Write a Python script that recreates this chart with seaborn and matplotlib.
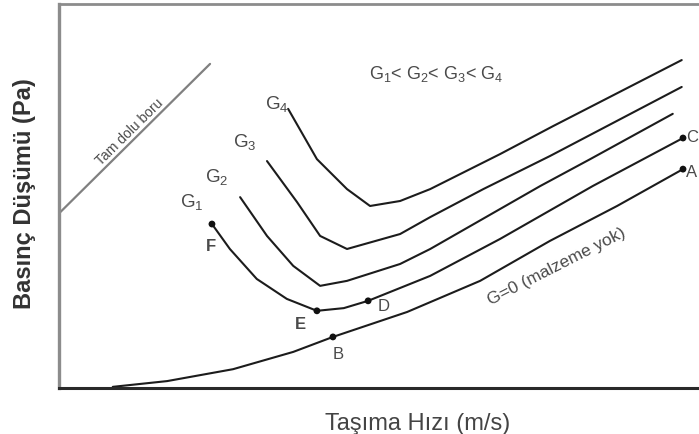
import pandas as pd
import matplotlib.pyplot as plt
import seaborn as sns

# Eğrilerin resimden okunan değerleri (eksen birimleri keyfi: x 0-10, y 0-10)
g0_x = [0.84, 1.69, 2.72, 3.66, 4.28, 5.44, 6.58, 7.67, 8.72, 9.75]
g0_y = [0.03, 0.18, 0.49, 0.94, 1.33, 1.98, 2.79, 3.83, 4.74, 5.70]

g1_x = [2.39, 2.67, 3.09, 3.56, 4.03, 4.45, 4.83, 5.80, 6.89, 8.34, 9.75]
g1_y = [4.27, 3.62, 2.84, 2.32, 2.01, 2.08, 2.27, 2.92, 3.88, 5.26, 6.51]

g2_x = [2.83, 3.25, 3.66, 4.08, 4.50, 5.33, 5.80, 7.52, 8.30, 9.59]
g2_y = [4.97, 3.96, 3.18, 2.66, 2.79, 3.23, 3.62, 5.26, 5.96, 7.14]

g3_x = [3.25, 3.72, 4.08, 4.50, 5.33, 5.80, 6.63, 7.67, 9.73]
g3_y = [5.91, 4.84, 3.96, 3.62, 4.01, 4.45, 5.18, 6.04, 7.84]

g4_x = [3.58, 4.03, 4.50, 4.86, 5.33, 5.80, 6.89, 7.72, 9.73]
g4_y = [7.27, 5.96, 5.18, 4.74, 4.87, 5.18, 6.09, 6.82, 8.54]

# tam dolu boru doğrusu
full_x = [0.02, 2.36]
full_y = [4.58, 8.44]

# işaretli noktalar
pt_names = ['F', 'E', 'D', 'B', 'C', 'A']
pt_x = [2.39, 4.03, 4.83, 4.28, 9.75, 9.75]
pt_y = [4.27, 2.01, 2.27, 1.33, 6.51, 5.70]

# uzun tablo
curves = {'G0': (g0_x, g0_y), 'G1': (g1_x, g1_y), 'G2': (g2_x, g2_y),
          'G3': (g3_x, g3_y), 'G4': (g4_x, g4_y)}
rows = []
for name, (xs, ys) in curves.items():
    for i, (x, y) in enumerate(zip(xs, ys)):
        rows.append({'curve': name, 'order': i, 'x': x, 'y': y})
df = pd.DataFrame(rows)
df_full = pd.DataFrame({'x': full_x, 'y': full_y})
df_pts = pd.DataFrame({'name': pt_names, 'x': pt_x, 'y': pt_y})

sns.set_theme(style='white')
plt.rcParams['font.family'] = ['Liberation Sans', 'DejaVu Sans']
plt.rcParams['mathtext.default'] = 'regular'

fig = plt.figure(figsize=(6.99, 4.35), dpi=100)
ax = fig.add_axes([59 / 699, 46 / 435, 640 / 699, 384 / 435])

sns.lineplot(data=df, x='x', y='y', units='curve', estimator=None, sort=False,
             color='#1c1c1c', lw=1.5, ax=ax)
sns.lineplot(data=df_full, x='x', y='y', estimator=None, sort=False,
             color='#808080', lw=1.6, ax=ax)
sns.scatterplot(data=df_pts, x='x', y='y', color='#111111', s=24,
                edgecolor='none', ax=ax, zorder=5)

ax.set_xlim(0, 10)
ax.set_ylim(0, 10)
ax.set_xticks([])
ax.set_yticks([])

# eksenler
ax.spines['right'].set_visible(False)
ax.spines['left'].set_color('#8c8c8c')
ax.spines['left'].set_linewidth(2.4)
ax.spines['top'].set_color('#8c8c8c')
ax.spines['top'].set_linewidth(2.0)
ax.spines['bottom'].set_color('#2a2a2a')
ax.spines['bottom'].set_linewidth(2.2)

ax.set_xlabel('Taşıma Hızı (m/s)', fontsize=17, color='#444444')
ax.xaxis.set_label_coords((418 - 59) / 640, -(424 - 389) / 384)
ax.set_ylabel('Basınç Düşümü (Pa)', fontsize=17, color='#333333',
              fontweight='bold')
ax.yaxis.set_label_coords(-(59 - 25) / 640, (389 - 194) / 384)
ax.xaxis.label.set_va('center')
ax.yaxis.label.set_va('center')

gray = '#4a4a4a'
ax.text(3.22, 7.29, 'G$_4$', fontsize=13.5, color=gray, ha='left', va='baseline')
ax.text(2.72, 6.30, 'G$_3$', fontsize=13.5, color=gray, ha='left', va='baseline')
ax.text(2.28, 5.39, 'G$_2$', fontsize=13.5, color=gray, ha='left', va='baseline')
ax.text(1.89, 4.74, 'G$_1$', fontsize=13.5, color=gray, ha='left', va='baseline')
ax.text(5.89, 8.07, 'G$_1$< G$_2$< G$_3$< G$_4$', fontsize=13, color=gray,
        ha='center', va='baseline')

txt = dict(color=gray, ha='center', va='center', fontsize=12)
ax.text(2.38, 3.70, 'F', fontweight='bold', **txt)
ax.text(3.78, 1.67, 'E', fontweight='bold', **txt)
ax.text(5.08, 2.14, 'D', **txt)
ax.text(4.36, 0.91, 'B', **txt)
ax.text(9.80, 6.56, 'C', fontsize=12, color=gray, ha='left', va='center')
ax.text(9.80, 5.65, 'A', fontsize=12, color=gray, ha='left', va='center')

ax.text(1.10, 6.70, 'Tam dolu boru', fontsize=10, rotation=44.6, color=gray,
        ha='center', va='center')
ax.text(7.78, 3.18, 'G=0 (malzeme yok)', fontsize=12.5, rotation=27,
        color=gray, ha='center', va='center')

fig.savefig('out.png', dpi=100)
